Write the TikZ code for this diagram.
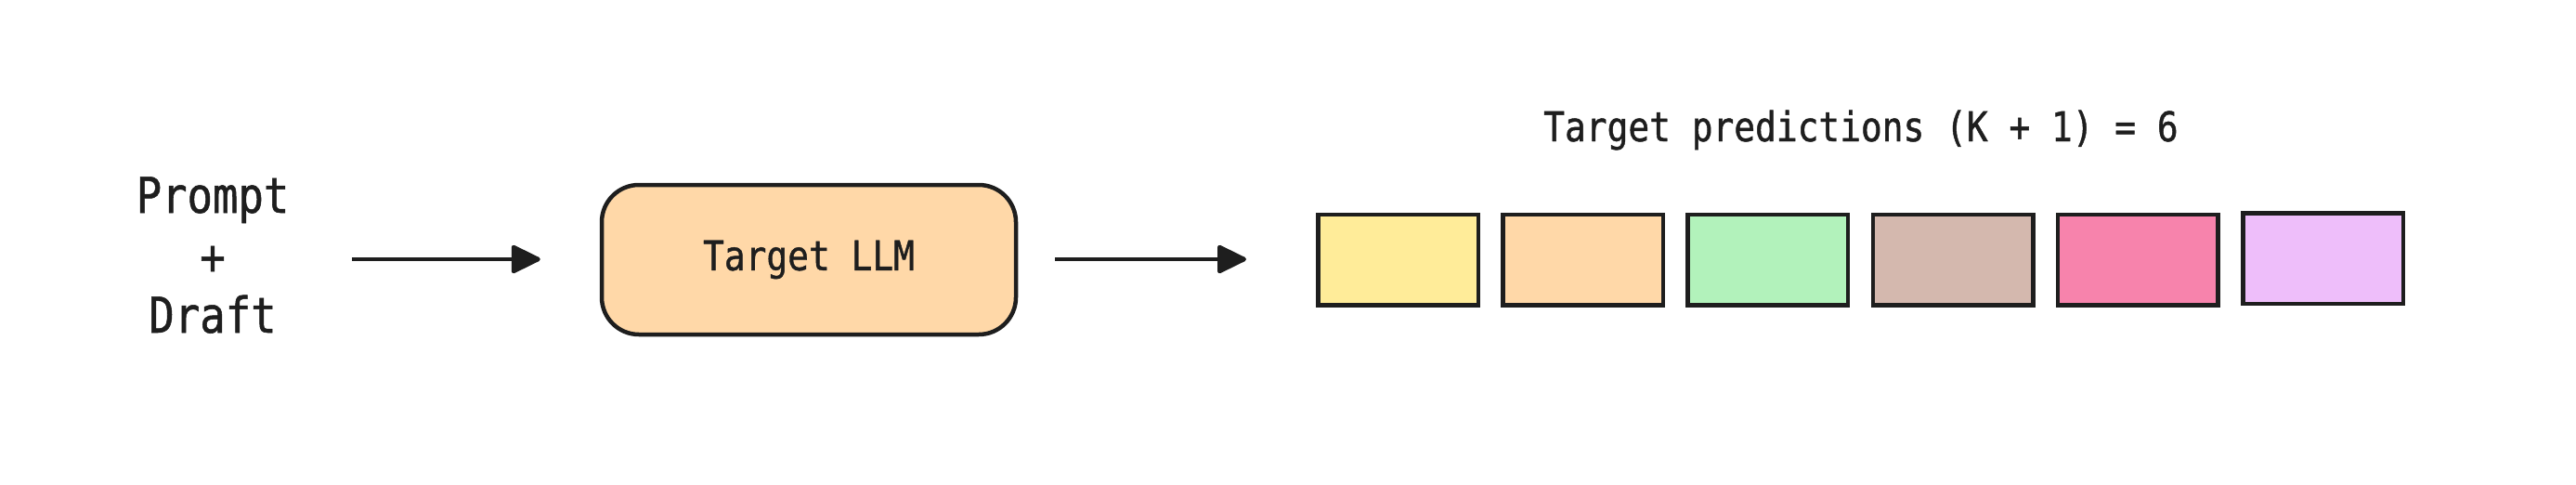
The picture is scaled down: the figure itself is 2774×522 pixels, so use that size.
\documentclass[tikz,border=0pt]{standalone}
\usepackage{fontspec}
\newfontfamily\hand[FakeStretch=0.86, FakeBold=1]{DejaVu Sans Mono}
\usetikzlibrary{arrows.meta}
\definecolor{ink}{HTML}{1E1E1E}
\definecolor{corange}{HTML}{FFD8A8}
\definecolor{cyellow}{HTML}{FFEC99}
\definecolor{cgreen}{HTML}{B2F2BB}
\definecolor{cbrown}{HTML}{D4B8AE}
\definecolor{cpink}{HTML}{F783AC}
\definecolor{cgrape}{HTML}{EEBEFA}
\tikzset{
  lbl/.style={font=\hand\fontsize{44}{52}\selectfont, text=ink, inner sep=0pt},
  biglbl/.style={font=\hand\fontsize{53}{65}\selectfont, text=ink, inner sep=0pt},
  llmbox/.style={draw=ink, line width=4.5pt, fill=corange, rounded corners=40pt,
    minimum width=446pt, minimum height=161pt, inner sep=0pt,
    font=\hand\fontsize{44}{52}\selectfont, text=ink},
  predbox/.style={draw=ink, line width=4.5pt, minimum width=172.5pt, minimum height=97.5pt, inner sep=0pt},
  arr/.style={draw=ink, line width=4.5pt, -{Triangle[length=34pt, width=32pt, round]}},
}
\begin{document}
\begin{tikzpicture}[x=1pt, y=-1pt]
\useasboundingbox[fill=white] (0,0) rectangle (2774,522);
% input text
\node[biglbl, anchor=base] (prompt) at (229,229) {Prompt};
\node[biglbl, anchor=center] (plus) at (229,280) {+};
\node[biglbl, anchor=base] (draft) at (229,358) {Draft};
% target LLM
\node[llmbox] (llm) at (871,279.5) {Target LLM};
% arrows
\coordinate (a1start) at (379,279);
\coordinate (a2end) at (1342,279);
\draw[arr, shorten >=64pt] (a1start) -- (llm.west |- a1start);
\draw[arr, shorten <=40pt] (llm.east |- a2end) -- (a2end);
% predictions
\node[lbl, anchor=base] (title) at (2004,152) {Target predictions (K + 1) = 6};
\node[predbox, fill=cyellow] (p1) at (1505.5,279.5) {};
\node[predbox, fill=corange] (p2) at (1704.7,279.5) {};
\node[predbox, fill=cgreen]  (p3) at (1903.9,279.5) {};
\node[predbox, fill=cbrown]  (p4) at (2103.1,279.5) {};
\node[predbox, fill=cpink]   (p5) at (2302.3,279.5) {};
\node[predbox, fill=cgrape]  (p6) at (2501.5,278.0) {};
\end{tikzpicture}
\end{document}
